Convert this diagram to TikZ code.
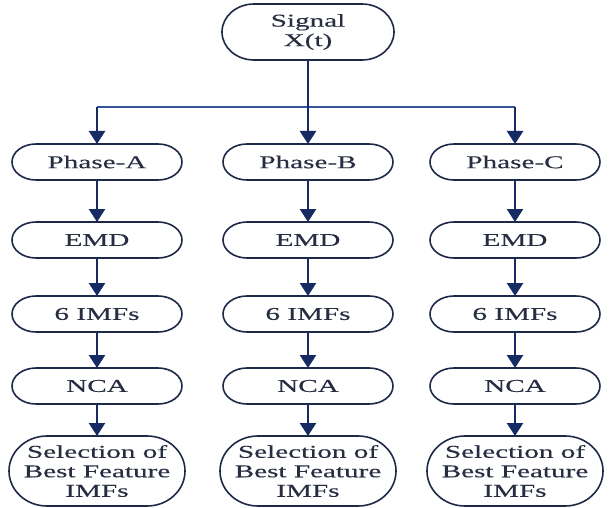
\documentclass[tikz,border=0pt]{standalone}
\usepackage{fontspec}
\setmainfont{Liberation Serif}
\newfontfamily\widefont[FakeStretch=1.62,FakeBold=0.3]{Liberation Serif}
\usetikzlibrary{arrows.meta}
\definecolor{navy}{RGB}{22,42,100}
\definecolor{boxline}{RGB}{30,40,72}
\definecolor{hblue}{RGB}{55,85,150}
\definecolor{txt}{RGB}{40,46,66}
\tikzset{
  flowbox/.style={minimum width=170pt, minimum height=36pt, inner sep=0pt, outer sep=0pt,
    align=center, text=txt, font=\widefont\fontsize{18}{19.5}\selectfont},
  selbox/.style={flowbox, minimum width=176pt, minimum height=70pt},
  sigbox/.style={flowbox, minimum width=172pt, minimum height=56pt},
  boxdraw/.style={draw=boxline, line width=1.6pt},
  arr/.style={draw=navy, line width=2.6pt, -{Triangle[width=16pt,length=13pt]}},
  hline/.style={draw=hblue, line width=1.8pt},
}
\newcommand\elbox[3]{%
  \draw[boxdraw] ([xshift=#2]#1.north west) -- ([xshift=-#2]#1.north east)
    arc[start angle=90,end angle=-90,x radius=#2,y radius=#3]
    -- ([xshift=#2]#1.south west)
    arc[start angle=270,end angle=90,x radius=#2,y radius=#3] -- cycle;}
\begin{document}
\begin{tikzpicture}[x=1pt,y=1pt]
\useasboundingbox (0,0) rectangle (613,-508);
\node[sigbox] (sig) at (308,-32) {Signal\\X(t)};
\elbox{sig}{32pt}{28pt}
\coordinate (hy) at (308,-107);
\foreach \c/\x/\l in {A/97/A, B/308/B, C/515/C}{
  \node[flowbox] (p\c) at (\x,-162) {Phase-\l};
  \node[flowbox] (e\c) at (\x,-240) {EMD};
  \node[flowbox] (i\c) at (\x,-314) {6 IMFs};
  \node[flowbox] (n\c) at (\x,-386) {NCA};
  \node[selbox] (s\c) at (\x,-471) {Selection of\\Best Feature\\IMFs};
  \elbox{p\c}{24pt}{18pt}
  \elbox{e\c}{24pt}{18pt}
  \elbox{i\c}{24pt}{18pt}
  \elbox{n\c}{24pt}{18pt}
  \elbox{s\c}{38pt}{35pt}
}
\draw[hline] (hy -| pA) -- (hy -| pC);
\draw[arr] (sig) -- (pB);
\draw[arr] (hy -| pA) -- (pA);
\draw[arr] (hy -| pC) -- (pC);
\foreach \c in {A,B,C}{
  \draw[arr] (p\c) -- (e\c);
  \draw[arr] (e\c) -- (i\c);
  \draw[arr] (i\c) -- (n\c);
  \draw[arr] (n\c) -- (s\c);
}
\end{tikzpicture}
\end{document}
